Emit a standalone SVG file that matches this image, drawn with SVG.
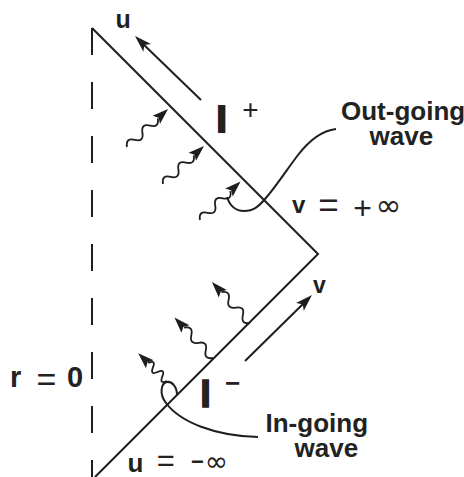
<svg xmlns="http://www.w3.org/2000/svg" xmlns:xlink="http://www.w3.org/1999/xlink" width="464" height="477" viewBox="0 0 464 477">
<style>
.ln{fill:none;stroke:#1e1e1e;stroke-width:2}
.w{fill:none;stroke:#1e1e1e;stroke-width:1.8}
.hd{fill:#1e1e1e;stroke:none}
.t{font-family:"Liberation Sans",Arial,sans-serif;font-weight:bold;fill:#222}
.s{font-family:"Liberation Sans",Arial,sans-serif;font-weight:normal;fill:#222}
.inf{font-family:"DejaVu Sans",sans-serif;font-weight:normal;fill:#222}
.big{stroke:#222}
</style>
<defs>
<path id="head" d="M0,0 L-17,-5.5 L-13,0 L-17,5.5 Z"/>
<g id="wave"><path class="w" d="M0,0 Q5.25,-8 10.5,0 T21,0 T31.5,0 T42,0"/><path class="hd" d="M56,0 L40,-5.5 L43,0 L40,5.5 Z"/></g>
<g id="waveS"><path class="w" d="M0,0 Q3.25,-8 6.5,0 T13,0 T19.5,0 T26,0"/><path class="hd" d="M40,0 L24,-5.5 L27,0 L24,5.5 Z"/></g>
</defs>

<g id="axis-r0">
<line class="ln" x1="92" y1="28" x2="92" y2="477" stroke-dasharray="27 27"/>
</g>

<g id="connectors">
<path id="scri" class="ln" d="M92,28 L318,254 L95,477"/>
<g id="arrow-u"><line class="ln" x1="201" y1="100" x2="141" y2="42"/><use xlink:href="#head" class="hd" transform="translate(135,36) rotate(-135.9)"/></g>
<g id="arrow-v"><line class="ln" x1="245" y1="361" x2="306" y2="301"/><use xlink:href="#head" class="hd" transform="translate(312,295) rotate(-44.6)"/></g>
<use xlink:href="#wave" transform="translate(127,147) rotate(-42.8)"/>
<use xlink:href="#wave" transform="translate(163,184) rotate(-42.9)"/>
<use xlink:href="#wave" transform="translate(200,220) rotate(-43.6)"/>
<use xlink:href="#wave" transform="translate(250,323) rotate(-132.8)"/>
<use xlink:href="#wave" transform="translate(213,358) rotate(-133.5)"/>
<use xlink:href="#waveS" transform="translate(167,381) rotate(-136)"/>
<path id="out-curve" class="ln" d="M227,197 C230,206 236,211 244,211 C254,211 259,206 265,199 C275,188 288,168 298,155 C308,142 320,131 336,129"/>
<path id="in-curve" class="ln" d="M177,395 C177,387 172,381 167,382 C161,383 159,394 166,403 C180,422 215,436 258,437"/>
</g>

<g id="label-u"><text class="t" x="115.5" y="28" font-size="25">u</text></g>
<g id="label-Iplus"><text class="t big" x="216.6" y="132" font-size="37" stroke-width="2">I</text><text class="s" x="250.5" y="118.8" font-size="28" text-anchor="middle">+</text></g>
<g id="label-outgoing"><text class="t" font-size="26"><tspan x="341" y="120">Out-going</tspan><tspan x="369.5" y="145">wave</tspan></text></g>
<g id="label-vplusinf"><text class="t" x="292" y="213" font-size="24">v</text><text class="s" x="318.3" y="217.4" font-size="35">=</text><text class="s" x="362.5" y="218.5" font-size="32" text-anchor="middle">+</text><text class="inf" x="388.5" y="215.5" font-size="31" text-anchor="middle">∞</text></g>
<g id="label-v"><text class="t" x="313" y="293" font-size="23">v</text></g>
<g id="label-Iminus"><text class="t big" x="200.3" y="407.2" font-size="38" stroke-width="1.5">I</text><text class="t" x="232.5" y="392" font-size="26" text-anchor="middle">−</text></g>
<g id="label-r0"><text class="t" x="10" y="387" font-size="29">r</text><text class="s" x="36.5" y="390.5" font-size="34">=</text><text class="t" x="67" y="387" font-size="29">0</text></g>
<g id="label-ingoing"><text class="t" font-size="26"><tspan x="265.5" y="432">In-going</tspan><tspan x="294.5" y="457">wave</tspan></text></g>
<g id="label-uminf"><text class="t" x="127.5" y="472" font-size="26">u</text><text class="s" x="156.8" y="470.8" font-size="31">=</text><text class="t" x="191" y="469" font-size="22">−</text><text class="inf" x="216.5" y="471" font-size="28" text-anchor="middle">∞</text></g>
</svg>
